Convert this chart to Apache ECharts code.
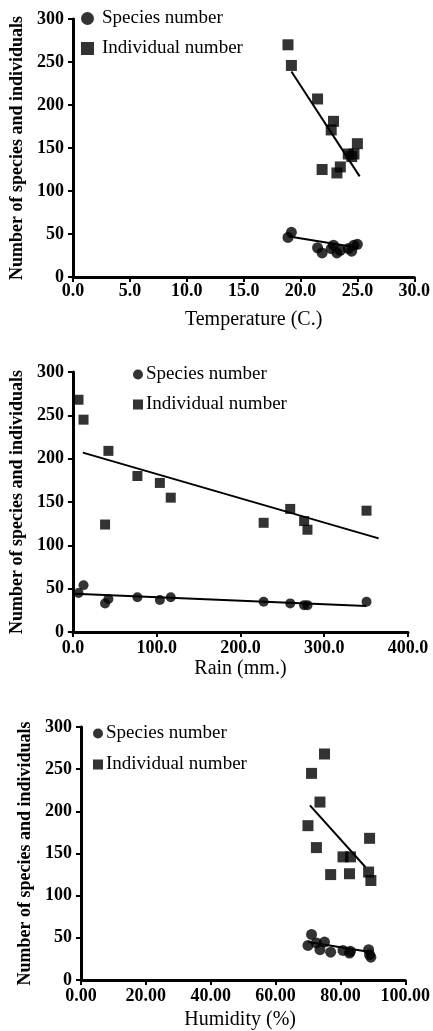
<!DOCTYPE html>
<html>
<head>
<meta charset="utf-8">
<script src="https://cdn.jsdelivr.net/npm/echarts@6/dist/echarts.min.js"></script>
<style>
html,body{margin:0;padding:0;background:#fff;}
#chart{width:433px;height:1031px;}
</style>
</head>
<body>
<div id="chart"></div>
<script>
// ---------- DATA ----------
const seriesNames = ['Species number', 'Individual number'];
const yTicks = ['0', '50', '100', '150', '200', '250', '300'];

// Panel 1: Temperature
const tempX = [18.9, 19.2, 21.5, 21.9, 22.7, 22.9, 23.2, 23.5, 24.2, 24.5, 24.7, 25.0];
const tempSpecies = [46, 52, 34, 28, 33, 37, 28, 31, 33, 30, 37, 38];
const tempIndividual = [270, 246, 207, 125, 171, 181, 121, 128, 143, 140, 143, 155];
const tempSpeciesFit = [[19.0, 47], [25.1, 34]];
const tempIndividualFit = [[19.2, 239], [25.2, 117]];
const tempTicks = ['0.0', '5.0', '10.0', '15.0', '20.0', '25.0', '30.0'];

// Panel 2: Rain
const rainX = [6.7, 12.7, 38.4, 42.4, 77, 103.8, 116.8, 227.7, 259.4, 276, 280, 350.5];
const rainSpecies = [45, 54, 33, 38, 40, 37, 40, 35, 33, 31, 31, 35];
const rainIndividual = [268, 245, 124, 209, 180, 172, 155, 126, 142, 128, 118, 140];
const rainSpeciesFit = [[2, 44], [350, 30]];
const rainIndividualFit = [[11.9, 207], [365, 108]];
const rainTicks = ['0.0', '100.0', '200.0', '300.0', '400.0'];

// Panel 3: Humidity
const humX = [70.0, 71.1, 72.6, 73.7, 75.1, 77.0, 80.8, 82.8, 83.1, 88.7, 89.0, 89.4];
const humSpecies = [41, 54, 44, 36, 45, 33, 35, 32, 34, 36, 30, 27];
const humIndividual = [183, 245, 157, 211, 268, 125, 146, 126, 146, 128, 168, 118];
const humSpeciesFit = [[70.0, 45], [89.6, 33]];
const humIndividualFit = [[70.6, 207], [87.7, 134]];
const humTicks = ['0.00', '20.00', '40.00', '60.00', '80.00', '100.00'];

// ---------- CHART ----------
const FONT = 'Liberation Serif';
const pair = (xs, ys) => xs.map((x, i) => [x, ys[i]]);

const panels = [
  { name: 'Temperature (C.)', x: tempX, sp: tempSpecies, ind: tempIndividual, spFit: tempSpeciesFit, indFit: tempIndividualFit,
    ticks: tempTicks, interval: 5, max: 30,
    grid: { left: 69, right: 14, top: 19, height: 258 }, yGap: 47, xGap: 33, xMargin: 5, namePad: [0, 0, 0, 20],
    sym: 11, leg: { left: 76, top: 4, icon: 13, gap: 11, pad: 3 } },
  { name: 'Rain (mm.)', x: rainX, sp: rainSpecies, ind: rainIndividual, spFit: rainSpeciesFit, indFit: rainIndividualFit,
    ticks: rainTicks, interval: 100, max: 400,
    grid: { left: 72, right: 25, top: 372, height: 260 }, yGap: 45, xGap: 27, xMargin: 7, namePad: [0, 0, 0, 0],
    sym: 10, leg: { left: 128, top: 360, icon: 10, gap: 11, pad: -2 } },
  { name: 'Humidity (%)', x: humX, sp: humSpecies, ind: humIndividual, spFit: humSpeciesFit, indFit: humIndividualFit,
    ticks: humTicks, interval: 20, max: 100,
    grid: { left: 81, right: 26, top: 727, height: 253 }, yGap: 44, xGap: 30, xMargin: 7, namePad: [0, 0, 0, -6],
    sym: 11, leg: { left: 88, top: 719, icon: 10, gap: 12, pad: -2 } }
];

const grid = [], xAxis = [], yAxis = [], series = [], legend = [];
panels.forEach((p, i) => {
  grid.push(Object.assign({ containLabel: false }, p.grid));
  const axisCommon = {
    axisLine: { show: true, onZero: false, lineStyle: { color: '#000', width: 3 } },
    axisTick: { show: true, inside: false, length: 5, lineStyle: { color: '#000', width: 2 } },
    splitLine: { show: false }
  };
  xAxis.push(Object.assign({}, axisCommon, {
    type: 'value', gridIndex: i, min: 0, max: p.max, interval: p.interval,
    name: p.name, nameLocation: 'middle', nameGap: p.xGap,
    nameTextStyle: { fontFamily: FONT, fontSize: 20, color: '#000', padding: p.namePad },
    axisLabel: { margin: p.xMargin, fontFamily: FONT, fontSize: 18, fontWeight: 'bold', color: '#000',
      formatter: v => p.ticks[Math.round(v / p.interval)] }
  }));
  yAxis.push(Object.assign({}, axisCommon, {
    type: 'value', gridIndex: i, min: 0, max: 300, interval: 50,
    name: 'Number of species and individuals', nameLocation: 'middle', nameGap: p.yGap,
    nameTextStyle: { fontFamily: FONT, fontSize: 18, fontWeight: 'bold', color: '#000' },
    axisLabel: { margin: 9, fontFamily: FONT, fontSize: 18, fontWeight: 'bold', color: '#000',
      formatter: v => yTicks[Math.round(v / 50)] }
  }));
  series.push({ name: seriesNames[0], type: 'scatter', xAxisIndex: i, yAxisIndex: i, symbol: 'circle', symbolSize: p.sym,
    itemStyle: { color: '#000' }, data: pair(p.x, p.sp), z: 3 });
  series.push({ name: seriesNames[1], type: 'scatter', xAxisIndex: i, yAxisIndex: i, symbol: 'rect', symbolSize: p.sym,
    itemStyle: { color: '#000' }, data: pair(p.x, p.ind), z: 3 });
  series.push({ name: 'fit-sp-' + i, type: 'line', xAxisIndex: i, yAxisIndex: i, symbol: 'none', silent: true,
    lineStyle: { color: '#000', width: 2 }, data: p.spFit, z: 2 });
  series.push({ name: 'fit-ind-' + i, type: 'line', xAxisIndex: i, yAxisIndex: i, symbol: 'none', silent: true,
    lineStyle: { color: '#000', width: 2 }, data: p.indFit, z: 2 });
  legend.push({
    orient: 'vertical', left: p.leg.left, top: p.leg.top, itemWidth: p.leg.icon, itemHeight: p.leg.icon,
    itemGap: p.leg.gap, selectedMode: false, data: seriesNames,
    textStyle: { fontFamily: FONT, fontSize: 19, color: '#000', padding: [0, 0, 0, p.leg.pad] }
  });
});

const chart = echarts.init(document.getElementById('chart'), null, { renderer: 'canvas' });
chart.setOption({ animation: false, backgroundColor: '#fff', grid, xAxis, yAxis, series, legend });
</script>
</body>
</html>
